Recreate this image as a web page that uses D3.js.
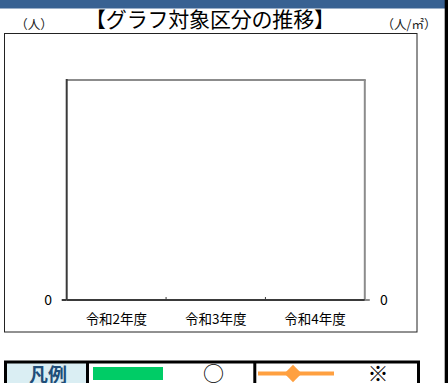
<!DOCTYPE html>
<html><head><meta charset="utf-8">
<script src="https://cdn.jsdelivr.net/npm/d3@7"></script>
<style>
html,body{margin:0;padding:0;background:#fff;overflow:hidden;}
svg{display:block;}
text{font-family:"Noto Sans CJK JP","Noto Sans",sans-serif;}
</style></head>
<body>
<script>
// ---- data ----
const categories = ["令和2年度", "令和3年度", "令和4年度"];
const barValues = [null, null, null];      // 人 (left axis) – no data
const lineValues = [null, null, null];     // 人/㎡ (right axis) – no data
const leftTicks = [0];
const rightTicks = [0];
const title = "【グラフ対象区分の推移】";
const leftUnit = "（人）";
const rightUnit = "（人/㎡）";
const legendLabel = "凡例";
const legendItems = ["○", "※"];

const W = 448, H = 383;
const svg = d3.select("body").append("svg").attr("width", W).attr("height", H);

// header band and right strip
svg.append("rect").attr("x", 0).attr("y", 0).attr("width", 445).attr("height", 8.5).attr("fill", "#386192");
svg.append("rect").attr("x", 444.7).attr("y", 0).attr("width", 3.3).attr("height", H).attr("fill", "#000");

// chart outer box
svg.append("rect").attr("x", 4.5).attr("y", 33.5).attr("width", 412.5).attr("height", 298.5)
  .attr("fill", "none").attr("stroke", "#222").attr("stroke-width", 1);

// titles
svg.append("text").attr("x", 210).attr("y", 27).attr("text-anchor", "middle")
  .attr("font-size", 21).attr("fill", "#000").attr("textLength", 250).text(title);
svg.append("text").attr("x", 34).attr("y", 29).attr("text-anchor", "middle")
  .attr("font-size", 12.5).attr("fill", "#222").text(leftUnit);
svg.append("text").attr("x", 409).attr("y", 29).attr("text-anchor", "middle")
  .attr("font-size", 12.5).attr("fill", "#222").text(rightUnit);

// scales
const plot = {l: 66.7, r: 364.8, t: 80, b: 300};
const x = d3.scaleBand().domain(categories).range([plot.l, plot.r]);
const yL = d3.scaleLinear().domain([0, 1]).range([plot.b, plot.t]);
const yR = d3.scaleLinear().domain([0, 1]).range([plot.b, plot.t]);

// plot frame (top & right in grey)
svg.append("line").attr("x1", plot.l).attr("x2", plot.r + 1).attr("y1", plot.t).attr("y2", plot.t)
  .attr("stroke", "#8c8c8c").attr("stroke-width", 2);
svg.append("line").attr("x1", plot.r).attr("x2", plot.r).attr("y1", plot.t).attr("y2", plot.b)
  .attr("stroke", "#8c8c8c").attr("stroke-width", 2);
// left axis line
svg.append("line").attr("x1", plot.l).attr("x2", plot.l).attr("y1", plot.t - 1).attr("y2", plot.b)
  .attr("stroke", "#3a3a3a").attr("stroke-width", 2);

// y ticks and labels
leftTicks.forEach(v => {
  svg.append("line").attr("x1", plot.l - 5).attr("x2", plot.l).attr("y1", yL(v)).attr("y2", yL(v))
    .attr("stroke", "#3a3a3a").attr("stroke-width", 2);
  svg.append("text").attr("x", 52).attr("y", yL(v) + 5).attr("text-anchor", "end")
    .attr("font-size", 14).attr("font-family", "Liberation Sans, Arial, sans-serif").attr("fill", "#000").text(v);
});
rightTicks.forEach(v => {
  svg.append("line").attr("x1", plot.r).attr("x2", plot.r + 5).attr("y1", yR(v)).attr("y2", yR(v))
    .attr("stroke", "#8c8c8c").attr("stroke-width", 2);
  svg.append("text").attr("x", 380).attr("y", yR(v) + 5).attr("text-anchor", "start")
    .attr("font-size", 14).attr("font-family", "Liberation Sans, Arial, sans-serif").attr("fill", "#000").text(v);
});

// bottom axis line
svg.append("line").attr("x1", plot.l).attr("x2", plot.r).attr("y1", plot.b).attr("y2", plot.b)
  .attr("stroke", "#3a3a3a").attr("stroke-width", 2);
// category boundary ticks
categories.slice(1).forEach(c => {
  const xx = x(c);
  svg.append("line").attr("x1", xx).attr("x2", xx).attr("y1", plot.b).attr("y2", plot.b - 3)
    .attr("stroke", "#3a3a3a").attr("stroke-width", 1);
});
// category labels
categories.forEach(c => {
  svg.append("text").attr("x", x(c) + x.bandwidth() / 2).attr("y", 324).attr("text-anchor", "middle")
    .attr("font-size", 13.5).attr("fill", "#000").text(c);
});

// series (no data -> nothing drawn)
svg.selectAll("rect.bar").data(categories.map((c, i) => ({c, v: barValues[i]})).filter(d => d.v != null))
  .join("rect").attr("class", "bar")
  .attr("x", d => x(d.c) + x.bandwidth() * 0.25).attr("width", x.bandwidth() * 0.5)
  .attr("y", d => yL(d.v)).attr("height", d => yL(0) - yL(d.v)).attr("fill", "#00cc66");
const lineData = categories.map((c, i) => ({c, v: lineValues[i]})).filter(d => d.v != null);
if (lineData.length) {
  svg.append("path").datum(lineData)
    .attr("d", d3.line().x(d => x(d.c) + x.bandwidth() / 2).y(d => yR(d.v)))
    .attr("fill", "none").attr("stroke", "#ffa040").attr("stroke-width", 3);
}

// legend
const lg = svg.append("g");
lg.append("rect").attr("x", 6.5).attr("y", 363).attr("width", 80).attr("height", 30).attr("fill", "#daeef3");
lg.append("rect").attr("x", 5.5).attr("y", 362).attr("width", 413).attr("height", 40)
  .attr("fill", "none").attr("stroke", "#000").attr("stroke-width", 3);
lg.append("line").attr("x1", 87.5).attr("x2", 87.5).attr("y1", 362).attr("y2", H).attr("stroke", "#000").attr("stroke-width", 3);
lg.append("line").attr("x1", 254.8).attr("x2", 254.8).attr("y1", 362).attr("y2", H).attr("stroke", "#000").attr("stroke-width", 3);
lg.append("text").attr("x", 48).attr("y", 382).attr("text-anchor", "middle").attr("font-size", 19)
  .attr("font-weight", "bold").attr("fill", "#1f4e79").text(legendLabel);
lg.append("rect").attr("x", 93).attr("y", 367).attr("width", 70).attr("height", 13).attr("fill", "#00cc66");
lg.append("text").attr("x", 213.5).attr("y", 381).attr("text-anchor", "middle")
  .attr("font-size", 21).attr("fill", "#000").text(legendItems[0]);
lg.append("line").attr("x1", 258).attr("x2", 334).attr("y1", 373.5).attr("y2", 373.5)
  .attr("stroke", "#ffa040").attr("stroke-width", 4);
lg.append("path").attr("d", d3.symbol().type(d3.symbolDiamond2).size(190)())
  .attr("transform", "translate(293,373.5)").attr("fill", "#ffa040");
lg.append("text").attr("x", 378).attr("y", 381).attr("text-anchor", "middle")
  .attr("font-size", 21).attr("fill", "#000").text(legendItems[1]);
</script>
</body></html>
